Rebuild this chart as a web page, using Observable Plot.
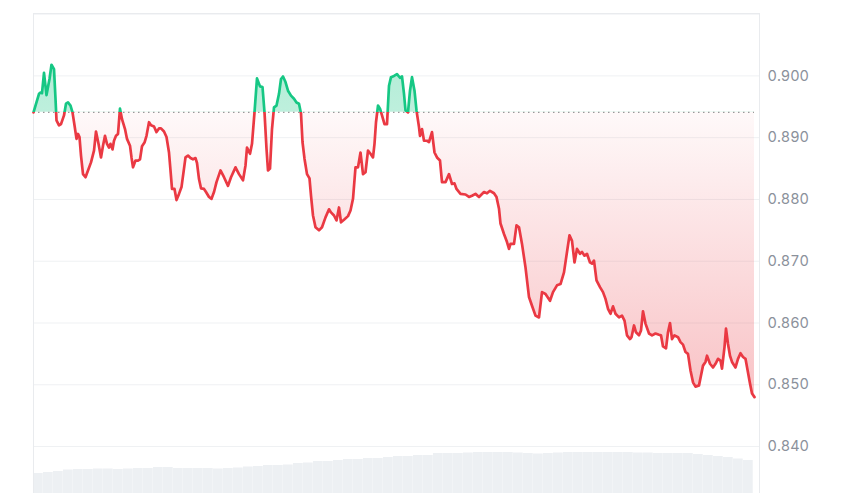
<!DOCTYPE html>
<html>
<head>
<meta charset="utf-8">
<script src="https://cdn.jsdelivr.net/npm/d3@7"></script>
<script src="https://cdn.jsdelivr.net/npm/@observablehq/plot@0.6"></script>
<style>
  html, body { margin: 0; padding: 0; background: #ffffff; }
  #chart { position: relative; width: 850px; height: 493px; overflow: hidden; }
  #chart svg { position: absolute; left: 0; top: 0; }
</style>
</head>
<body>
<div id="chart"></div>
<script>
// minutes since start of the 24h window
const minutes = [
  0,11,14,17,21,26,32,36,41,44,
  46,51,55,61,65,69,74,78,82,86,
  89,92,95,99,104,109,115,121,125,130,
  135,139,143,147,151,154,158,161,165,169,
  173,177,183,187,193,196,199,204,209,213,
  217,222,226,231,235,241,246,251,255,261,
  266,271,274,277,282,286,291,296,301,304,
  309,314,319,324,327,331,335,341,345,351,
  356,361,366,374,381,389,395,404,411,419,
  424,427,433,437,442,447,453,458,462,466,
  469,473,477,481,486,491,495,499,504,509,
  515,521,526,531,535,538,542,547,552,555,
  559,564,571,577,584,591,595,601,606,611,
  615,621,629,634,639,644,649,654,659,664,
  669,674,679,682,685,689,693,697,702,707,
  711,715,721,727,733,737,741,744,749,753,
  757,762,766,771,773,777,781,787,791,797,
  802,807,813,817,824,831,837,842,846,854,
  864,871,877,884,891,901,907,913,921,926,
  931,934,941,947,951,954,961,966,971,977,
  984,991,997,1004,1011,1017,1024,1033,1039,1047,
  1054,1061,1067,1072,1077,1082,1087,1093,1097,1102,
  1107,1113,1117,1121,1126,1133,1139,1144,1149,1154,
  1159,1164,1171,1177,1182,1187,1193,1196,1201,1205,
  1211,1215,1219,1224,1231,1237,1244,1251,1255,1259,
  1265,1269,1273,1277,1282,1289,1294,1299,1304,1309,
  1314,1319,1324,1331,1335,1339,1344,1347,1353,1359,
  1364,1369,1374,1377,1382,1385,1389,1393,1397,1404,
  1409,1414,1419,1424,1429,1433,1437,1442
];

const prices = [
  0.8941,0.8971,0.8973,0.8972,0.9005,0.8969,0.8995,0.9018,0.9011,0.8963,
  0.8928,0.8920,0.8922,0.8936,0.8955,0.8957,0.8952,0.8941,0.8920,0.8898,
  0.8906,0.8901,0.8871,0.8841,0.8836,0.8847,0.8860,0.8879,0.8910,0.8890,
  0.8868,0.8887,0.8903,0.8890,0.8884,0.8890,0.8881,0.8895,0.8903,0.8906,
  0.8947,0.8930,0.8914,0.8898,0.8887,0.8868,0.8852,0.8863,0.8863,0.8865,
  0.8886,0.8892,0.8903,0.8925,0.8920,0.8918,0.8909,0.8915,0.8915,0.8910,
  0.8901,0.8876,0.8847,0.8817,0.8817,0.8799,0.8809,0.8820,0.8850,0.8868,
  0.8871,0.8867,0.8865,0.8867,0.8859,0.8833,0.8818,0.8817,0.8812,0.8804,
  0.8801,0.8812,0.8828,0.8847,0.8836,0.8822,0.8836,0.8852,0.8841,0.8831,
  0.8855,0.8884,0.8874,0.8890,0.8941,0.8996,0.8983,0.8982,0.8941,0.8882,
  0.8847,0.8850,0.8914,0.8949,0.8952,0.8971,0.8995,0.8999,0.8990,0.8976,
  0.8968,0.8963,0.8957,0.8955,0.8939,0.8893,0.8866,0.8841,0.8834,0.8806,
  0.8774,0.8755,0.8750,0.8755,0.8771,0.8784,0.8779,0.8774,0.8766,0.8787,
  0.8763,0.8767,0.8773,0.8782,0.8801,0.8852,0.8852,0.8876,0.8841,0.8844,
  0.8879,0.8874,0.8868,0.8890,0.8925,0.8952,0.8947,0.8936,0.8922,0.8922,
  0.8984,0.8998,0.9000,0.9003,0.8997,0.8999,0.8971,0.8944,0.8941,0.8976,
  0.8998,0.8976,0.8944,0.8917,0.8903,0.8914,0.8895,0.8895,0.8893,0.8909,
  0.8876,0.8868,0.8863,0.8828,0.8828,0.8841,0.8825,0.8826,0.8817,0.8809,
  0.8808,0.8804,0.8806,0.8809,0.8804,0.8812,0.8810,0.8814,0.8810,0.8804,
  0.8785,0.8761,0.8744,0.8731,0.8720,0.8728,0.8728,0.8758,0.8755,0.8728,
  0.8690,0.8642,0.8628,0.8612,0.8609,0.8650,0.8647,0.8636,0.8650,0.8661,
  0.8663,0.8682,0.8715,0.8742,0.8733,0.8698,0.8720,0.8712,0.8715,0.8709,
  0.8712,0.8698,0.8696,0.8701,0.8669,0.8658,0.8650,0.8639,0.8623,0.8615,
  0.8627,0.8615,0.8609,0.8612,0.8604,0.8580,0.8574,0.8577,0.8596,0.8585,
  0.8580,0.8588,0.8619,0.8599,0.8583,0.8580,0.8583,0.8581,0.8580,0.8562,
  0.8559,0.8585,0.8600,0.8574,0.8580,0.8577,0.8569,0.8565,0.8553,0.8550,
  0.8523,0.8504,0.8497,0.8499,0.8515,0.8531,0.8537,0.8547,0.8534,0.8528,
  0.8534,0.8542,0.8539,0.8526,0.8561,0.8591,0.8566,0.8547,0.8537,0.8528,
  0.8542,0.8551,0.8545,0.8542,0.8520,0.8502,0.8486,0.8480
];

// trading volume per 20-minute bucket (millions, estimated)
const volumes = [
  20,21,22,23.5,24,24,24.5,24.5,24,24.5,
  25,25,26,26,25,25,25,25,24.5,25,
  25.5,26.5,27,28,28,28.5,30,30.5,32,32,
  33,34,34,35,35,36,37,37,38,38,
  40,40,40,40.5,41,41,41,41,40.5,40,
  39.5,40,40.5,41,41,41,41,41,41,41,
  40.5,40.5,40,40,40,40,39,38,37,36,
  34.5,33
];
const volumeBucket = 20;

const yTicks = [0.84, 0.85, 0.86, 0.87, 0.88, 0.89, 0.90];
const gridValues = [0.84, 0.85, 0.86, 0.87, 0.88, 0.89, 0.90, 0.91];

const baseline = prices[0];
const data = minutes.map((t, i) => ({t, price: prices[i]}));
const vol = volumes.map((v, i) => ({t0: i * volumeBucket, t1: Math.min((i + 1) * volumeBucket, 1442), v}));

const W = 850, H = 493, MT = 13;
const xDomain = [0, 1442], xRange = [33, 754];
const yDomain = [0.8324, 0.9101];

const volPlot = Plot.plot({
  width: W, height: H,
  marginLeft: 33, marginRight: W - 754, marginTop: 0, marginBottom: 0,
  x: {domain: xDomain, range: xRange, axis: null},
  y: {domain: [0, 120], range: [H, H - 120], axis: null},
  style: {background: "transparent"},
  marks: [
    Plot.rectY(vol, {x1: "t0", x2: "t1", y: "v", fill: "#edf0f3", insetRight: 0.3})
  ]
});

const main = Plot.plot({
  width: W, height: H,
  marginLeft: 33, marginRight: W - 759, marginTop: MT, marginBottom: 0,
  x: {domain: xDomain, range: xRange, axis: null},
  y: {domain: yDomain, axis: "right", ticks: yTicks, tickSize: 0, tickPadding: 8,
      tickFormat: d3.format(".3f"), label: null},
  style: {background: "transparent", fontFamily: "Inter, Roboto, sans-serif", fontSize: "14.5px", color: "#8b919b"},
  marks: [
    Plot.ruleY(gridValues, {stroke: "#eff1f3", strokeWidth: 1}),
    Plot.frame({stroke: "#e9ebee", insetBottom: -3}),
    Plot.areaY(data, {x: "t", y1: () => baseline, y2: "price", fill: "url(#pxFill)"}),
    Plot.ruleY([baseline], {x1: 0, x2: 1442, stroke: "#999999", strokeWidth: 1.2, strokeDasharray: "1.5,3.5"}),
    Plot.line(data, {x: "t", y: "price", stroke: "url(#pxLine)", strokeWidth: 2.7, strokeLinejoin: "round"})
  ]
});

// gradients keyed to the baseline position on the y scale
const yScale = d3.scaleLinear(yDomain, [H, MT]);
const off = yScale(baseline) / H;
const low = yScale(0.849) / H;
const defs = d3.create("svg:defs");
const lg = defs.append("linearGradient").attr("id", "pxLine")
  .attr("gradientUnits", "userSpaceOnUse").attr("x1", 0).attr("y1", 0).attr("x2", 0).attr("y2", H);
lg.append("stop").attr("offset", 0).attr("stop-color", "#16c784");
lg.append("stop").attr("offset", off).attr("stop-color", "#16c784");
lg.append("stop").attr("offset", off).attr("stop-color", "#ea3943");
lg.append("stop").attr("offset", 1).attr("stop-color", "#ea3943");
const fg = defs.append("linearGradient").attr("id", "pxFill")
  .attr("gradientUnits", "userSpaceOnUse").attr("x1", 0).attr("y1", 0).attr("x2", 0).attr("y2", H);
fg.append("stop").attr("offset", 0).attr("stop-color", "#16c784").attr("stop-opacity", 0.38);
fg.append("stop").attr("offset", off).attr("stop-color", "#16c784").attr("stop-opacity", 0.28);
fg.append("stop").attr("offset", off).attr("stop-color", "#ea3943").attr("stop-opacity", 0.03);
fg.append("stop").attr("offset", low).attr("stop-color", "#ea3943").attr("stop-opacity", 0.3);
fg.append("stop").attr("offset", 1).attr("stop-color", "#ea3943").attr("stop-opacity", 0.36);
main.insertBefore(defs.node(), main.firstChild);

const chart = document.getElementById("chart");
chart.appendChild(volPlot);
chart.appendChild(main);
</script>
</body>
</html>
